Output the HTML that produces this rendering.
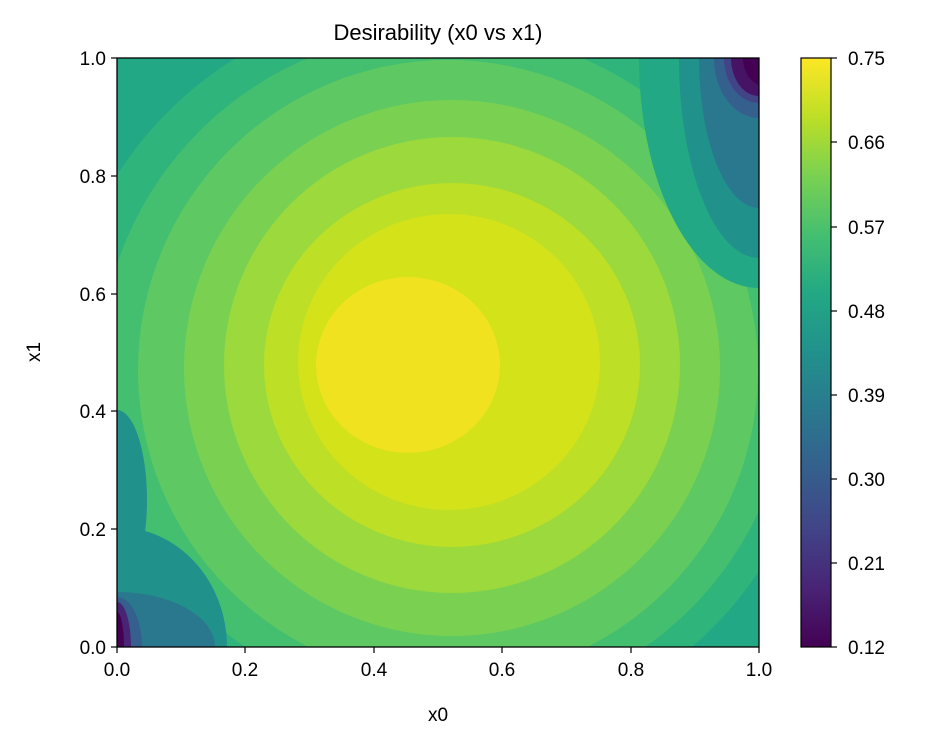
<!DOCTYPE html>
<html><head><meta charset="utf-8"><style>
body{margin:0;background:#fff;}
svg{display:block;font-family:"Liberation Sans","DejaVu Sans",sans-serif;}
</style></head><body>
<svg width="927" height="748" viewBox="0 0 927 748" xmlns="http://www.w3.org/2000/svg">
<defs>
<clipPath id="c"><rect x="117" y="58" width="642" height="589"/></clipPath>
<linearGradient id="vir" x1="0" y1="1" x2="0" y2="0">
<stop offset="0" stop-color="#440154"/><stop offset="0.1" stop-color="#482475"/>
<stop offset="0.2" stop-color="#414487"/><stop offset="0.3" stop-color="#355f8d"/>
<stop offset="0.4" stop-color="#2a788e"/><stop offset="0.5" stop-color="#21918c"/>
<stop offset="0.6" stop-color="#22a884"/><stop offset="0.7" stop-color="#44bf70"/>
<stop offset="0.8" stop-color="#7ad151"/><stop offset="0.9" stop-color="#bddf26"/>
<stop offset="1" stop-color="#fde725"/></linearGradient>
</defs>
<g clip-path="url(#c)">
<rect x="117" y="58" width="642" height="589" fill="#22a884"/>
<ellipse cx="440" cy="370" rx="380" ry="370" fill="#2fb47c"/>
<ellipse cx="445" cy="370" rx="345" ry="340" fill="#44bf70"/>
<ellipse cx="448" cy="370" rx="310" ry="310" fill="#5ec962"/>
<ellipse cx="452" cy="368" rx="268" ry="268" fill="#7ad151"/>
<ellipse cx="452" cy="365" rx="228" ry="228" fill="#9bd93c"/>
<ellipse cx="452" cy="365" rx="188" ry="182" fill="#bddf26"/>
<ellipse cx="449" cy="362" rx="151" ry="148" fill="#d4e21a"/>
<ellipse cx="408" cy="365" rx="92" ry="88" fill="#f0e21e"/>
<!-- top-right corner -->
<ellipse cx="759" cy="58" rx="120" ry="230" fill="#22a884"/>
<ellipse cx="759" cy="58" rx="80" ry="200" fill="#21918c"/>
<ellipse cx="759" cy="58" rx="60" ry="150" fill="#2a788e"/>
<ellipse cx="759" cy="58" rx="45" ry="60" fill="#355f8d"/>
<ellipse cx="759" cy="58" rx="35" ry="45" fill="#414487"/>
<ellipse cx="759" cy="58" rx="28" ry="38" fill="#471365"/>
<ellipse cx="765" cy="58" rx="22" ry="28" fill="#440154"/>
<!-- bottom-left -->
<ellipse cx="117" cy="500" rx="30" ry="90" fill="#21918c"/>
<ellipse cx="117" cy="647" rx="110" ry="120" fill="#21918c"/>
<ellipse cx="117" cy="647" rx="98" ry="55" fill="#2a788e"/>
<ellipse cx="117" cy="647" rx="25" ry="50" fill="#355f8d"/>
<ellipse cx="117" cy="647" rx="14" ry="45" fill="#482475"/>
<ellipse cx="117" cy="647" rx="7" ry="35" fill="#440154"/>
</g>
<rect x="117" y="58" width="642" height="589" fill="none" stroke="#000" stroke-width="1.3"/>
<g font-size="19" fill="#000">
<g text-anchor="middle">
<text x="117" y="676">0.0</text><text x="245" y="676">0.2</text><text x="374" y="676">0.4</text>
<text x="502" y="676">0.6</text><text x="631" y="676">0.8</text><text x="759" y="676">1.0</text>
<text x="438" y="721">x0</text>
<text x="438" y="40" font-size="22">Desirability (x0 vs x1)</text>
</g>
<g text-anchor="end">
<text x="106" y="654">0.0</text><text x="106" y="536">0.2</text><text x="106" y="418">0.4</text>
<text x="106" y="301">0.6</text><text x="106" y="183">0.8</text><text x="106" y="65">1.0</text>
</g>
<text transform="translate(40,352) rotate(-90)" text-anchor="middle">x1</text>
<g>
<text x="848" y="654">0.12</text><text x="848" y="570">0.21</text><text x="848" y="486">0.30</text>
<text x="848" y="402">0.39</text><text x="848" y="318">0.48</text><text x="848" y="234">0.57</text>
<text x="848" y="149">0.66</text><text x="848" y="65">0.75</text>
</g>
</g>
<g stroke="#000" stroke-width="1.2">
<line x1="117" y1="647" x2="117" y2="653"/><line x1="245" y1="647" x2="245" y2="653"/><line x1="374" y1="647" x2="374" y2="653"/>
<line x1="502" y1="647" x2="502" y2="653"/><line x1="631" y1="647" x2="631" y2="653"/><line x1="759" y1="647" x2="759" y2="653"/>
<line x1="111" y1="647" x2="117" y2="647"/><line x1="111" y1="529" x2="117" y2="529"/><line x1="111" y1="411" x2="117" y2="411"/>
<line x1="111" y1="294" x2="117" y2="294"/><line x1="111" y1="176" x2="117" y2="176"/><line x1="111" y1="58" x2="117" y2="58"/>
<line x1="831" y1="647" x2="837" y2="647"/><line x1="831" y1="563" x2="837" y2="563"/><line x1="831" y1="479" x2="837" y2="479"/>
<line x1="831" y1="395" x2="837" y2="395"/><line x1="831" y1="311" x2="837" y2="311"/><line x1="831" y1="227" x2="837" y2="227"/>
<line x1="831" y1="142" x2="837" y2="142"/><line x1="831" y1="58" x2="837" y2="58"/>
</g>
<rect x="801" y="58" width="30" height="589" fill="url(#vir)" stroke="#000" stroke-width="1.2"/>
</svg>
</body></html>
